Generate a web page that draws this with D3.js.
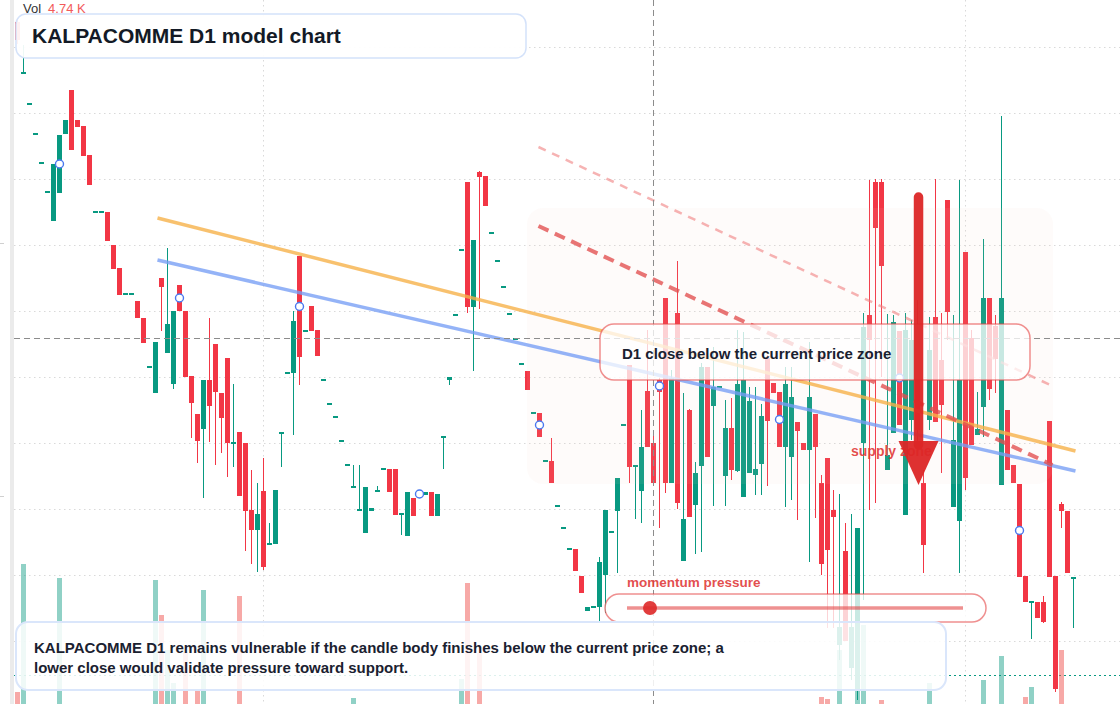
<!DOCTYPE html>
<html><head><meta charset="utf-8">
<script src="https://cdn.jsdelivr.net/npm/d3@7"></script>
<style>
html,body{margin:0;padding:0;background:#fff;}
svg{display:block;font-family:"Liberation Sans",Arial,Helvetica,sans-serif;}
</style></head><body>
<svg id="chart" width="1120" height="704"></svg>
<script>
// ---- data (price units, one entry per D1 candle) ----
const opens = [7.78,7.26,6.96,6.66,6.37,6.08,5.79,6.07,6.66,7.10,6.80,6.74,6.45,5.88,5.88,5.88,5.55,5.32,5.06,5.06,
4.99,4.82,4.33,4.07,5.22,4.47,4.16,5.15,4.89,4.24,3.86,3.71,4.20,4.56,4.07,4.42,3.57,3.68,3.57,2.90,
2.70,3.09,2.56,2.56,3.67,4.27,4.27,5.44,4.69,4.94,4.70,4.20,3.96,3.83,3.59,3.35,3.13,2.90,2.67,2.89,
3.09,3.31,3.31,3.31,2.86,2.64,3.02,3.06,3.05,3.08,2.84,3.63,4.20,4.85,5.50,6.18,4.93,6.28,6.24,5.67,
5.39,5.13,4.86,4.61,4.36,4.29,3.87,3.87,3.39,3.39,2.94,2.72,2.51,2.51,2.24,1.89,1.93,1.93,2.25,2.68,
2.89,3.75,4.35,3.34,3.09,4.09,3.57,4.20,5.02,3.17,4.87,2.39,3.90,2.95,3.34,4.33,3.94,4.13,3.24,3.72,
3.29,3.03,3.27,3.25,3.36,4.42,4.17,4.08,3.53,3.43,3.78,3.57,3.50,3.86,3.17,3.42,2.90,1.55,2.49,1.32,
1.10,3.57,4.85,6.18,6.18,3.30,3.67,4.69,2.85,3.80,4.70,3.17,3.80,4.83,4.40,6.00,2.93,2.79,5.48,4.62,
3.65,3.93,5.02,4.74,3.15,3.90,3.35,3.16,2.24,1.98,1.98,1.98,3.79,2.24,2.96,2.89,2.22];
const highs = [7.82,7.55,6.96,6.66,6.37,6.08,6.36,6.65,6.80,7.10,6.80,6.74,6.45,5.88,5.88,5.88,5.55,5.32,5.06,5.06,
4.99,4.82,4.33,4.58,5.22,5.52,4.89,5.15,4.89,4.24,3.86,4.20,4.82,4.56,4.07,4.42,4.16,3.68,3.57,3.30,
3.17,3.42,2.77,3.10,3.67,4.27,4.89,5.44,4.69,4.94,4.70,4.20,3.96,3.83,3.59,3.35,3.35,3.35,3.13,2.92,
3.14,3.31,3.31,3.31,2.86,3.08,3.02,3.06,3.08,3.08,3.06,3.63,4.23,4.85,5.50,6.18,5.60,6.29,6.24,5.67,
5.39,5.13,4.86,4.61,4.36,4.29,3.87,3.87,3.39,3.62,2.94,2.72,2.51,2.51,2.24,1.93,1.93,2.43,2.90,2.68,
3.22,3.75,4.35,3.34,3.90,4.70,3.65,4.22,5.02,4.30,5.39,4.07,3.91,3.38,4.37,4.33,4.53,4.13,4.00,4.02,
4.70,4.68,4.13,4.13,3.96,4.45,4.17,4.08,4.33,4.33,3.78,3.57,4.58,3.86,3.25,3.42,3.10,3.06,2.77,2.86,
2.72,4.87,6.20,6.21,6.21,4.86,4.85,4.69,4.87,4.80,5.00,3.30,4.83,6.21,4.87,6.00,4.85,6.20,5.48,4.70,
4.08,5.61,5.02,4.85,6.84,3.90,3.35,3.16,2.24,1.98,1.98,2.04,3.79,2.24,2.98,2.89,2.22];
const lows = [7.56,7.26,6.96,6.66,6.37,6.08,5.79,6.07,6.66,6.50,6.73,6.44,6.15,5.88,5.88,5.59,5.31,5.05,5.06,5.06,
4.82,4.57,4.33,4.07,4.69,4.47,4.11,4.89,4.23,3.62,3.37,3.02,3.58,3.35,3.47,3.23,3.33,3.04,2.49,2.36,
2.28,2.30,2.56,2.56,3.33,4.27,3.65,4.15,4.69,4.69,4.44,4.20,3.96,3.83,3.59,3.35,3.13,2.90,2.67,2.89,
3.09,3.31,3.08,2.85,2.65,2.64,2.84,3.06,3.05,2.84,2.84,3.31,4.15,4.85,5.50,4.87,4.29,4.91,5.94,5.67,
5.39,5.13,4.86,4.61,4.36,4.10,3.87,3.63,3.39,3.17,2.94,2.72,2.51,2.29,2.07,1.89,1.93,1.79,1.87,2.68,
2.27,3.75,3.17,2.81,2.77,3.53,3.17,2.72,3.07,3.17,2.91,2.39,2.83,2.46,2.48,3.43,2.94,4.13,2.94,3.20,
3.28,3.03,3.27,3.05,3.05,3.14,4.07,3.53,2.93,3.00,2.80,3.50,2.38,2.82,2.25,1.72,1.72,1.40,1.59,1.20,
1.00,2.00,2.90,2.97,4.23,3.30,3.67,3.75,2.85,3.60,3.50,2.27,3.70,3.78,3.27,4.60,2.93,2.27,3.10,3.55,
3.65,3.63,4.00,4.07,3.15,3.30,3.17,2.23,1.98,1.61,1.82,1.77,2.23,1.08,2.72,2.27,1.72];
const closes = [7.60,7.28,6.96,6.66,6.37,6.08,6.36,6.65,6.80,6.50,6.73,6.44,6.15,5.88,5.88,5.59,5.31,5.05,5.06,5.06,
4.82,4.57,4.33,4.58,5.13,4.76,4.89,4.89,4.23,3.97,3.59,4.20,3.94,4.08,3.82,3.57,3.57,3.04,2.89,2.70,
2.86,2.33,2.56,3.10,3.67,4.27,4.79,4.43,4.69,4.69,4.44,4.20,3.96,3.83,3.59,3.35,3.13,2.90,3.13,2.92,
3.09,3.31,3.08,2.85,2.86,3.08,2.84,3.06,3.08,2.84,3.06,3.63,4.23,4.85,5.50,4.93,5.60,6.23,5.94,5.67,
5.39,5.13,4.86,4.61,4.36,4.10,3.87,3.63,3.39,3.17,2.94,2.72,2.51,2.29,2.07,1.93,1.93,2.38,2.90,2.68,
3.22,3.75,3.33,3.34,3.53,3.53,3.17,4.08,3.17,4.22,2.97,2.81,2.83,3.27,4.33,3.43,4.13,4.13,3.72,3.30,
4.16,4.20,3.99,3.31,3.84,3.79,4.07,3.53,4.16,4.03,3.69,3.50,4.03,3.53,2.36,2.50,2.83,1.73,1.59,1.73,
2.72,4.73,4.60,5.72,5.34,3.45,4.78,3.75,4.70,4.60,3.70,2.55,4.50,3.78,3.95,4.88,3.60,4.20,3.22,3.55,
3.71,5.02,4.11,4.41,5.02,3.30,3.17,2.23,1.98,1.98,1.82,1.78,2.23,1.11,2.89,2.27,2.22];
// volume in thousands
const volumes = [1.6,8.0,0.5,0.4,0.6,0.5,0.8,7.3,0.7,0.9,0.5,0.6,0.8,0.4,0.3,0.7,0.6,0.8,0.3,0.4,
0.6,0.7,0.4,7.2,5.45,3.7,2.05,0.8,3.6,0.9,1.7,6.7,0.6,0.8,0.7,0.9,0.5,6.4,0.9,0.7,
0.6,0.8,0.3,0.9,0.4,0.3,0.8,0.9,0.3,0.6,0.5,0.3,0.3,0.2,0.3,0.2,1.3,0.4,0.7,0.3,
0.4,0.3,0.5,0.7,0.4,0.8,0.5,0.3,0.3,0.6,0.5,0.4,0.5,0.3,2.25,7.05,0.9,3.55,0.8,0.3,
0.3,0.2,0.3,0.2,0.3,0.6,0.3,0.5,0.3,0.6,0.2,0.3,0.2,0.5,0.6,0.4,0.2,0.9,0.9,0.3,
0.8,0.3,0.9,0.5,0.8,0.9,0.7,0.8,0.9,0.9,0.9,0.7,0.9,0.6,0.9,0.8,0.7,0.3,0.7,0.6,
0.8,0.9,0.7,0.5,0.6,0.8,0.4,0.7,0.8,0.7,0.6,0.4,0.9,0.7,1.35,1.25,0.8,3.7,0.9,0.9,
4.2,4.95,0.9,0.9,1.2,0.7,0.8,0.9,0.8,0.7,0.8,0.9,2.05,0.9,0.7,0.8,0.7,0.9,0.9,0.8,
0.5,2.2,0.8,0.6,3.4,0.7,0.5,0.9,1.35,1.85,0.6,0.7,0.9,0.9,3.7,0.9,0.6];
const markerIdx = [7,27,47,67,87,107,127,147,167];
const gridPrices = [7.53,6.87,6.21,5.55,4.89,4.23,3.57,2.91,2.25,1.59];
const gridIdx = [41,158];
const crossIdx = 106, crossPrice = 4.62;
const supportPrice = 1.25;
const trendOrange = [[23.33,5.82],[176.33,3.49]];
const trendBlue = [[23.33,5.40],[176.33,3.29]];
const dashHeavy = [[86.83,5.74],[172.5,3.35]];
const dashLight = [[86.83,6.53],[172.5,4.14]];
const zone = {i0:85, i1:172.67, p0:5.92, p1:3.16};
const arrow = {i:150.17, p0:6.03, p1:3.15, head:3.59};
const volLabel = "4.74 K";
const titleText = "KALPACOMME D1 model chart";
const noteText = "D1 close below the current price zone";
const bodyLines = ["KALPACOMME D1 remains vulnerable if the candle body finishes below the current price zone; a",
                   "lower close would validate pressure toward support."];

// ---- scales ----
const svg = d3.select('#chart');
const W = 1120, H = 704;
const x = d3.scaleLinear().domain([0, opens.length - 1]).range([17.5, 1073.5]);
const y = d3.scaleLinear().domain([0, 8]).range([800, 0]);
const yVol = d3.scaleLinear().domain([0, 8]).range([724, 564]);
const UP = "#089981", DN = "#f23645";
const data = opens.map((o, i) => ({i, o, h: highs[i], l: lows[i], c: closes[i], v: volumes[i], up: closes[i] >= o}));

svg.append('rect').attr('width', W).attr('height', H).attr('fill', '#fff');
svg.append('rect').attr('x', 10).attr('y', 0).attr('width', 4).attr('height', H).attr('fill', '#ebebeb');
[243, 496].forEach(v => svg.append('line').attr('x1', 0).attr('x2', 4).attr('y1', v + 0.5).attr('y2', v + 0.5).attr('stroke', '#d0d0d0'));

// grid
const g = svg.append('g');
g.selectAll('.hg').data(gridPrices).join('line')
  .attr('x1', 14).attr('x2', W).attr('y1', d => y(d) + 0.5).attr('y2', d => y(d) + 0.5)
  .attr('stroke', '#d9d9d9').attr('stroke-dasharray', '1.5,3.5');
g.selectAll('.vg').data(gridIdx).join('line')
  .attr('x1', d => x(d)).attr('x2', d => x(d)).attr('y1', 0).attr('y2', H)
  .attr('stroke', '#d9d9d9').attr('stroke-dasharray', '1.5,3.5');

// support / last price dotted line
svg.append('line').attr('x1', 14).attr('x2', W).attr('y1', y(supportPrice) + 0.5).attr('y2', y(supportPrice) + 0.5)
  .attr('stroke', UP).attr('stroke-width', 1).attr('stroke-dasharray', '2,3');

// volume
svg.append('g').selectAll('rect').data(data).join('rect')
  .attr('x', d => x(d.i) - 2.5).attr('width', 5)
  .attr('y', d => yVol(d.v)).attr('height', d => yVol(0) - yVol(d.v))
  .attr('fill', d => d.up ? 'rgba(8,153,129,0.45)' : 'rgba(239,83,80,0.5)');

// candles
const cg = svg.append('g');
cg.selectAll('line').data(data).join('line')
  .attr('x1', d => x(d.i)).attr('x2', d => x(d.i))
  .attr('y1', d => y(d.h)).attr('y2', d => y(d.l))
  .attr('stroke', d => d.up ? UP : DN).attr('stroke-width', 1);
cg.selectAll('rect').data(data).join('rect')
  .attr('x', d => x(d.i) - 2.5).attr('width', 5)
  .attr('y', d => { const a = y(Math.max(d.o, d.c)), b = y(Math.min(d.o, d.c)); return (b - a) < 2 ? (a + b) / 2 - 1 : a; })
  .attr('height', d => Math.max(2, Math.abs(y(d.o) - y(d.c))))
  .attr('fill', d => d.up ? UP : DN);

// zone overlay
svg.append('rect').attr('x', x(zone.i0) - 0.5).attr('y', y(zone.p0))
  .attr('width', x(zone.i1) - x(zone.i0)).attr('height', y(zone.p1) - y(zone.p0))
  .attr('rx', 16).attr('fill', 'rgba(240,205,185,0.08)');

// trend lines
function seg(pts, color, w, op, dash) {
  svg.append('line').attr('x1', x(pts[0][0])).attr('y1', y(pts[0][1]))
    .attr('x2', x(pts[1][0])).attr('y2', y(pts[1][1]))
    .attr('stroke', color).attr('stroke-width', w).attr('stroke-opacity', op)
    .attr('stroke-dasharray', dash || null);
}
seg(trendOrange, '#f6b24a', 3.5, 0.8);
seg(trendBlue, '#769ef5', 3.5, 0.78);
seg(dashLight, '#f08080', 2.5, 0.6, '8,7');
seg(dashHeavy, '#e24e4e', 4, 0.78, '11,7');

// markers
svg.append('g').selectAll('circle').data(markerIdx).join('circle')
  .attr('cx', d => x(d)).attr('cy', d => y((opens[d] + closes[d]) / 2)).attr('r', 4)
  .attr('fill', '#fff').attr('stroke', '#4a78ef').attr('stroke-width', 1.4);

// crosshair
svg.append('line').attr('x1', x(crossIdx)).attr('x2', x(crossIdx)).attr('y1', 0).attr('y2', H)
  .attr('stroke', '#8c8c8c').attr('stroke-dasharray', '6,4');
svg.append('line').attr('x1', 14).attr('x2', W).attr('y1', y(crossPrice) + 0.5).attr('y2', y(crossPrice) + 0.5)
  .attr('stroke', '#8c8c8c').attr('stroke-dasharray', '6,4');

// volume legend
const vt = svg.append('text').attr('x', 23).attr('y', 13).attr('font-size', 13);
vt.append('tspan').attr('fill', '#333').text('Vol');
vt.append('tspan').attr('fill', '#f25a5a').attr('dx', 7).text(volLabel);

// title box
svg.append('rect').attr('x', 16).attr('y', 14).attr('width', 510).attr('height', 44).attr('rx', 10)
  .attr('fill', 'rgba(255,255,255,0.93)').attr('stroke', '#d4e2fa').attr('stroke-width', 1.5);
svg.append('text').attr('x', 32).attr('y', 43).attr('font-size', 21).attr('font-weight', 'bold')
  .attr('fill', '#131a26').text(titleText);

// annotation box
svg.append('rect').attr('x', 600).attr('y', 324).attr('width', 430).attr('height', 56).attr('rx', 14)
  .attr('fill', 'rgba(255,255,255,0.76)').attr('stroke', 'rgba(230,70,70,0.6)').attr('stroke-width', 1.5);
svg.append('text').attr('x', 622).attr('y', 359).attr('font-size', 15).attr('font-weight', 'bold')
  .attr('fill', '#1a2130').text(noteText);

// supply zone label + arrow
svg.append('text').attr('x', 851).attr('y', 456).attr('font-size', 14).attr('font-weight', 'bold')
  .attr('fill', 'rgba(224,52,52,0.88)').text('supply zone');
const ax = x(arrow.i);
svg.append('line').attr('x1', ax).attr('x2', ax).attr('y1', y(arrow.p0)).attr('y2', y(arrow.head) + 4)
  .attr('stroke', '#dc2626').attr('stroke-width', 9.5).attr('stroke-linecap', 'round').attr('stroke-opacity', 0.95);
svg.append('path').attr('d', `M${ax - 20},${y(arrow.head)} L${ax + 20},${y(arrow.head)} L${ax},${y(arrow.p1)} Z`)
  .attr('fill', '#dc2626').attr('fill-opacity', 0.95);

// momentum pressure widget
svg.append('text').attr('x', 627).attr('y', 587).attr('font-size', 13.5).attr('font-weight', 'bold')
  .attr('fill', 'rgba(224,56,56,0.9)').text('momentum pressure');
svg.append('rect').attr('x', 605).attr('y', 594).attr('width', 381).attr('height', 28).attr('rx', 14)
  .attr('fill', 'rgba(255,255,255,0.78)').attr('stroke', 'rgba(228,70,70,0.6)').attr('stroke-width', 1.5);
svg.append('line').attr('x1', 627).attr('x2', 963).attr('y1', 608).attr('y2', 608)
  .attr('stroke', 'rgba(226,72,72,0.6)').attr('stroke-width', 3.5);
svg.append('circle').attr('cx', 650).attr('cy', 608).attr('r', 7).attr('fill', 'rgba(222,40,40,0.9)');

// bottom note box
svg.append('rect').attr('x', 16).attr('y', 622).attr('width', 930).attr('height', 68).attr('rx', 12)
  .attr('fill', 'rgba(255,255,255,0.86)').attr('stroke', '#dae6fb').attr('stroke-width', 2);
svg.append('g').selectAll('text').data(bodyLines).join('text')
  .attr('x', 34).attr('y', (d, i) => 653 + i * 20).attr('font-size', 15).attr('font-weight', 'bold')
  .attr('fill', '#1a2130').text(d => d);
</script>
</body></html>
